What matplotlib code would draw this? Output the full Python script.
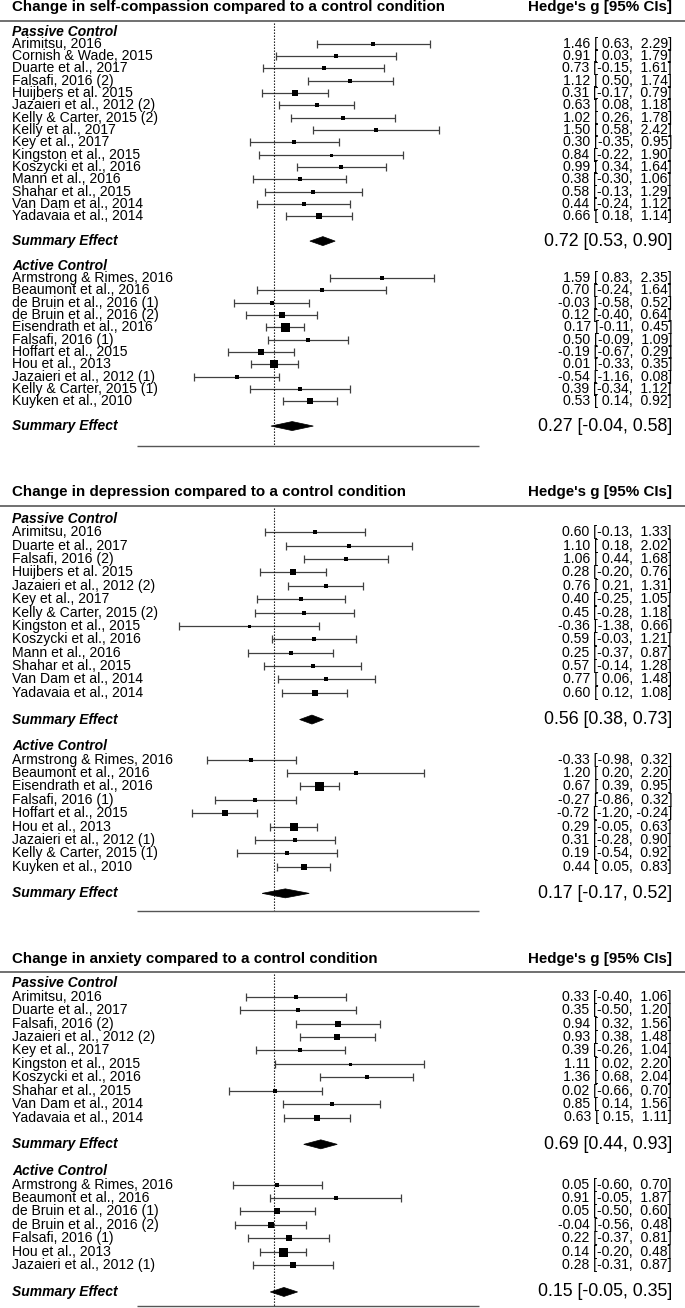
import numpy as np
import matplotlib
matplotlib.use('Agg')
import matplotlib.pyplot as plt
from matplotlib import transforms
from matplotlib.patches import Polygon

plt.rcParams['font.family'] = ['Liberation Sans', 'DejaVu Sans']

# ---- self-compassion ----
sc_pas_labels = ["Arimitsu, 2016", "Cornish & Wade, 2015", "Duarte et al., 2017", "Falsafi, 2016 (2)",
                 "Huijbers et al. 2015", "Jazaieri et al., 2012 (2)", "Kelly & Carter, 2015 (2)",
                 "Kelly et al., 2017", "Key et al., 2017", "Kingston et al., 2015", "Koszycki et al., 2016",
                 "Mann et al., 2016", "Shahar et al., 2015", "Van Dam et al., 2014", "Yadavaia et al., 2014"]
sc_pas_g = [1.46, 0.91, 0.73, 1.12, 0.31, 0.63, 1.02, 1.50, 0.30, 0.84, 0.99, 0.38, 0.58, 0.44, 0.66]
sc_pas_lo = [0.63, 0.03, -0.15, 0.50, -0.17, 0.08, 0.26, 0.58, -0.35, -0.22, 0.34, -0.30, -0.13, -0.24, 0.18]
sc_pas_hi = [2.29, 1.79, 1.61, 1.74, 0.79, 1.18, 1.78, 2.42, 0.95, 1.90, 1.64, 1.06, 1.29, 1.12, 1.14]
sc_pas_sum = (0.72, 0.53, 0.90)

sc_act_labels = ["Armstrong & Rimes, 2016", "Beaumont et al., 2016", "de Bruin et al., 2016 (1)",
                 "de Bruin et al., 2016 (2)", "Eisendrath et al., 2016", "Falsafi, 2016 (1)",
                 "Hoffart et al., 2015", "Hou et al., 2013", "Jazaieri et al., 2012 (1)",
                 "Kelly & Carter, 2015 (1)", "Kuyken et al., 2010"]
sc_act_g = [1.59, 0.70, -0.03, 0.12, 0.17, 0.50, -0.19, 0.01, -0.54, 0.39, 0.53]
sc_act_lo = [0.83, -0.24, -0.58, -0.40, -0.11, -0.09, -0.67, -0.33, -1.16, -0.34, 0.14]
sc_act_hi = [2.35, 1.64, 0.52, 0.64, 0.45, 1.09, 0.29, 0.35, 0.08, 1.12, 0.92]
sc_act_sum = (0.27, -0.04, 0.58)

# ---- depression ----
dep_pas_labels = ["Arimitsu, 2016", "Duarte et al., 2017", "Falsafi, 2016 (2)", "Huijbers et al. 2015",
                  "Jazaieri et al., 2012 (2)", "Key et al., 2017", "Kelly & Carter, 2015 (2)",
                  "Kingston et al., 2015", "Koszycki et al., 2016", "Mann et al., 2016",
                  "Shahar et al., 2015", "Van Dam et al., 2014", "Yadavaia et al., 2014"]
dep_pas_g = [0.60, 1.10, 1.06, 0.28, 0.76, 0.40, 0.45, -0.36, 0.59, 0.25, 0.57, 0.77, 0.60]
dep_pas_lo = [-0.13, 0.18, 0.44, -0.20, 0.21, -0.25, -0.28, -1.38, -0.03, -0.37, -0.14, 0.06, 0.12]
dep_pas_hi = [1.33, 2.02, 1.68, 0.76, 1.31, 1.05, 1.18, 0.66, 1.21, 0.87, 1.28, 1.48, 1.08]
dep_pas_sum = (0.56, 0.38, 0.73)

dep_act_labels = ["Armstrong & Rimes, 2016", "Beaumont et al., 2016", "Eisendrath et al., 2016",
                  "Falsafi, 2016 (1)", "Hoffart et al., 2015", "Hou et al., 2013",
                  "Jazaieri et al., 2012 (1)", "Kelly & Carter, 2015 (1)", "Kuyken et al., 2010"]
dep_act_g = [-0.33, 1.20, 0.67, -0.27, -0.72, 0.29, 0.31, 0.19, 0.44]
dep_act_lo = [-0.98, 0.20, 0.39, -0.86, -1.20, -0.05, -0.28, -0.54, 0.05]
dep_act_hi = [0.32, 2.20, 0.95, 0.32, -0.24, 0.63, 0.90, 0.92, 0.83]
dep_act_sum = (0.17, -0.17, 0.52)

# ---- anxiety ----
anx_pas_labels = ["Arimitsu, 2016", "Duarte et al., 2017", "Falsafi, 2016 (2)", "Jazaieri et al., 2012 (2)",
                  "Key et al., 2017", "Kingston et al., 2015", "Koszycki et al., 2016",
                  "Shahar et al., 2015", "Van Dam et al., 2014", "Yadavaia et al., 2014"]
anx_pas_g = [0.33, 0.35, 0.94, 0.93, 0.39, 1.11, 1.36, 0.02, 0.85, 0.63]
anx_pas_lo = [-0.40, -0.50, 0.32, 0.38, -0.26, 0.02, 0.68, -0.66, 0.14, 0.15]
anx_pas_hi = [1.06, 1.20, 1.56, 1.48, 1.04, 2.20, 2.04, 0.70, 1.56, 1.11]
anx_pas_sum = (0.69, 0.44, 0.93)

anx_act_labels = ["Armstrong & Rimes, 2016", "Beaumont et al., 2016", "de Bruin et al., 2016 (1)",
                  "de Bruin et al., 2016 (2)", "Falsafi, 2016 (1)", "Hou et al., 2013",
                  "Jazaieri et al., 2012 (1)"]
anx_act_g = [0.05, 0.91, 0.05, -0.04, 0.22, 0.14, 0.28]
anx_act_lo = [-0.60, -0.05, -0.50, -0.56, -0.37, -0.20, -0.31]
anx_act_hi = [0.70, 1.87, 0.60, 0.48, 0.81, 0.48, 0.87]
anx_act_sum = (0.15, -0.05, 0.35)

W, H = 685, 1308
fig = plt.figure(figsize=(W / 100, H / 100), dpi=100)
ax = fig.add_axes([0, 0, 1, 1])
# x=0 at pixel 273.7, 68.3 px per unit of g
ax.set_xlim(-273.7 / 68.3, (W - 273.7) / 68.3)
ax.set_ylim(H, 0)
ax.axis('off')
tr = transforms.blended_transform_factory(ax.transAxes, ax.transData)

LX, RX = 12.5 / W, 672 / W
CI_COL = '#404040'


def fmt_ci(g, lo, hi):
    return f"{g:.2f} [{lo:5.2f}, {hi:5.2f}]"


def draw_panel(title, groups, title_y, line_y, row0, step, axis_y):
    ax.text(LX, title_y, title, transform=tr, ha='left', va='center', fontsize=10.9, fontweight='bold')
    ax.text(RX, title_y, "Hedge's g [95% CIs]", transform=tr, ha='right', va='center',
            fontsize=10.9, fontweight='bold')
    ax.axhline(line_y, color='#707070', lw=1.4)

    # square size from precision (1 / CI width), scaled 0.5..1.5 like metafor
    all_lo = np.concatenate([np.array(grp[3]) for grp in groups])
    all_hi = np.concatenate([np.array(grp[4]) for grp in groups])
    prec = 1 / (all_hi - all_lo)
    pmin, pmax = prec.min(), prec.max()

    row = 0
    for name, labels, gs, los, his, summ in groups:
        ax.text(LX, row0 + row * step, name, transform=tr, ha='left', va='center',
                fontsize=10, fontweight='bold', fontstyle='italic')
        for lab, g, lo, hi in zip(labels, gs, los, his):
            row += 1
            y = row0 + row * step
            ax.text(LX, y, lab, transform=tr, ha='left', va='center', fontsize=10.1)
            ax.text(RX, y, fmt_ci(g, lo, hi), transform=tr, ha='right', va='center', fontsize=10.1)
            ax.errorbar(g, y, xerr=[[g - lo], [hi - g]], fmt='none', ecolor=CI_COL,
                        elinewidth=0.9, capsize=2.8, capthick=0.9)
            side = 6.0 * (0.5 + (1 / (hi - lo) - pmin) / (pmax - pmin))
            ax.plot(g, y, marker='s', ms=side * 0.72, mew=0, color='black', linestyle='none')
        row += 2
        y = row0 + row * step
        sg, slo, shi = summ
        ax.text(LX, y, "Summary Effect", transform=tr, ha='left', va='center',
                fontsize=10, fontweight='bold', fontstyle='italic')
        ax.text(RX, y, f"{sg:.2f} [{slo:.2f}, {shi:.2f}]", transform=tr, ha='right', va='center',
                fontsize=12.8)
        dh = 4.5
        ax.add_patch(Polygon([(slo, y), (sg, y - dh), (shi, y), (sg, y + dh)], closed=True,
                             facecolor='black', edgecolor='black', lw=0.5))
        row += 2

    ax.vlines(0, line_y + 2, axis_y, color='black', linestyles=(0, (1.2, 1.5)), lw=0.8)
    ax.hlines(axis_y, -2, 3, color='#555555', lw=1.0)


draw_panel("Change in self-compassion compared to a control condition",
           [("Passive Control", sc_pas_labels, sc_pas_g, sc_pas_lo, sc_pas_hi, sc_pas_sum),
            ("Active Control", sc_act_labels, sc_act_g, sc_act_lo, sc_act_hi, sc_act_sum)],
           7, 21, 31.5, 12.33, 446)
draw_panel("Change in depression compared to a control condition",
           [("Passive Control", dep_pas_labels, dep_pas_g, dep_pas_lo, dep_pas_hi, dep_pas_sum),
            ("Active Control", dep_act_labels, dep_act_g, dep_act_lo, dep_act_hi, dep_act_sum)],
           491.7, 505.5, 519, 13.37, 910.5)
draw_panel("Change in anxiety compared to a control condition",
           [("Passive Control", anx_pas_labels, anx_pas_g, anx_pas_lo, anx_pas_hi, anx_pas_sum),
            ("Active Control", anx_act_labels, anx_act_g, anx_act_lo, anx_act_hi, anx_act_sum)],
           959, 971.5, 983.3, 13.42, 1306)

fig.savefig('out.png', dpi=100)
